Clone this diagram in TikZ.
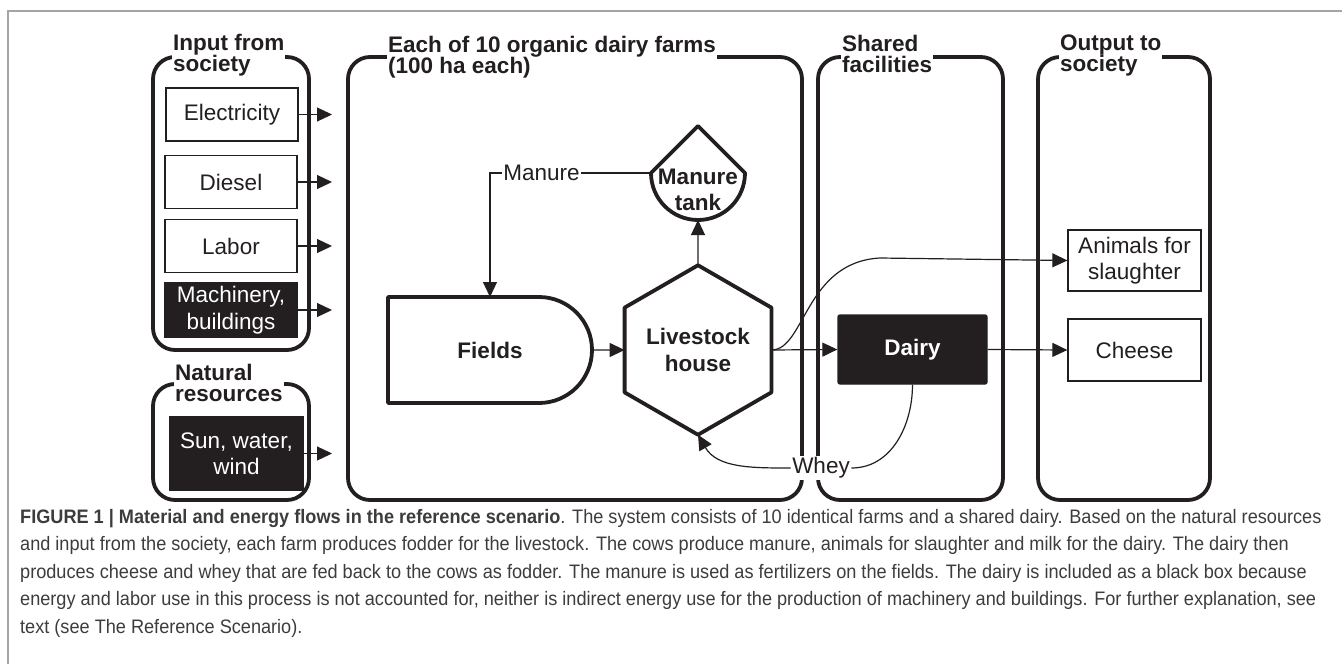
\documentclass[tikz,border=0pt]{standalone}
\usepackage{fontspec}
\setmainfont{Liberation Sans}
\newfontfamily\capfont[FakeStretch=0.93]{Liberation Sans}
\usetikzlibrary{arrows.meta,shapes.geometric,positioning}
\definecolor{ink}{RGB}{35,31,32}
\definecolor{framegray}{RGB}{165,165,165}
\definecolor{capgray}{RGB}{60,60,60}
\newcommand\boxfont{\fontsize{22.5}{26.5}\selectfont}
\newcommand\zonefont{\bfseries\fontsize{22.5}{20.5}\selectfont\lineskiplimit=-\maxdimen}
\newcommand\capsize{\capfont\fontsize{19.5}{21}\selectfont}
\tikzset{
  zone/.style={draw=ink, line width=3.8pt, rounded corners=22pt},
  zonetitle/.style={fill=white, inner sep=1pt, anchor=north west, align=left, text=ink, font=\zonefont},
  inbox/.style={draw=ink, line width=1.3pt, fill=white, text=ink, inner sep=0pt,
    minimum width=132pt, minimum height=53pt, align=center, font=\boxfont},
  darkbox/.style={inbox, fill=ink, text=white},
  procline/.style={draw=ink, line width=3.8pt, line join=round},
  link/.style={draw=ink, line width=1.2pt},
  flow/.style={link, -{Triangle[length=15pt,width=14pt]}},
  lbl/.style={fill=white, inner sep=1.5pt, text=ink, font=\boxfont},
  capline/.style={anchor=base west, inner sep=0pt, text=capgray, font=\capsize}
}
\begin{document}
\begin{tikzpicture}[x=1pt, y=1pt]
  \useasboundingbox (0,0) rectangle (1342,-664);
  % figure frame
  \draw [framegray, line width=1.3pt] (8,-664) -- (8,-11) -- (1342,-11);

  % zones
  \draw [zone] (153,-57) rectangle (309,-350);
  \draw [zone] (153,-384) rectangle (309,-500);
  \draw [zone] (348,-57) rectangle (802,-500);
  \draw [zone] (818,-57) rectangle (1003,-500);
  \draw [zone] (1038,-57) rectangle (1210,-500);
  \node [zonetitle] (t-input) at (172,-33) {Input from\\society};
  \node [zonetitle] (t-natural) at (174,-363) {Natural\\resources};
  \node [zonetitle] (t-farm) at (387,-35) {Each of 10 organic dairy farms\\(100 ha each)};
  \node [zonetitle] (t-shared) at (841,-34) {Shared\\facilities};
  \node [zonetitle] (t-output) at (1059,-34) {Output to\\society};

  % inputs
  \node [inbox] (elec) at (232,-114.5) {Electricity};
  \node [inbox] (diesel) at (231,-182) {Diesel};
  \node [inbox] (labor) at (231,-246) {Labor};
  \node [darkbox, minimum height=54pt] (mach) at (231,-310) {Machinery,\\buildings};
  \node [darkbox, minimum width=133pt, minimum height=73pt] (sun) at (236.5,-453.5) {Sun, water,\\wind};
  \coordinate (farmedge) at (332,0);
  \foreach \n in {elec, diesel, labor, mach, sun}
    \draw [flow] (\n.east) -- (\n.east -| farmedge);

  % farm
  \node [minimum width=204pt, minimum height=106pt, inner sep=0pt, outer sep=0pt,
    text=ink, font=\bfseries\boxfont] (fields) at (490,-350) {Fields};
  \draw [procline] (fields.north west) -- ([xshift=-53pt]fields.north east)
    arc [start angle=90, end angle=-90, radius=53] -- (fields.south west) -- cycle;
  \node [regular polygon, regular polygon sides=6, shape border rotate=30,
    minimum size=159pt, inner sep=0pt, outer sep=0pt, procline, align=center,
    text=ink, font=\bfseries\boxfont] (live) at (698,-350) {Livestock\\house};
  \node [circle, minimum size=94pt, inner sep=0pt, outer sep=0pt] (tank) at (698,-173) {};
  \draw [procline] (tank.west) -- (tank.north) -- (tank.east)
    arc [start angle=0, end angle=-180, radius=47] -- cycle;
  \node [align=center, text=ink, font=\bfseries\boxfont] (tanktext)
    at ([yshift=-17pt]tank.center) {Manure\\tank};
  \draw [flow] (fields.east) -- (live.west);
  \draw [flow] (live.north) -- (tank.south);
  \draw [flow] (tank.west) -- (fields.north |- tank.west)
    node [lbl, pos=.68] (manurelbl) {Manure} -- (fields.north);

  % shared and output
  \node [darkbox, minimum width=149pt, minimum height=69pt, rounded corners=2pt,
    font=\bfseries\boxfont] (dairy) at (912.5,-349.5) {Dairy};
  \node [inbox, minimum width=133pt, minimum height=61pt] (animals) at (1134.5,-260.5) {Animals for\\slaughter};
  \node [inbox, minimum width=133pt, minimum height=62pt] (cheese) at (1134.5,-350) {Cheese};
  \draw [flow] (live.east) -- (dairy.west);
  \draw [flow] (dairy.east) -- (cheese.west);
  \draw [flow] (live.east) .. controls (805,-350) and (805,-262) .. (880,-258) -- (animals.west);
  \node [lbl] (whey) at (821,-468) {Whey};
  \draw [link] (dairy.south) to [out=-90, in=0] (whey.east);
  \draw [flow] (whey.west) to [out=180, in=-60] (live.south);

  % caption
  \node [capline] (cap1) at (20,-523) {\textbf{FIGURE 1 | Material and energy flows in the reference scenario}. The system consists of 10 identical farms and a shared dairy. Based on the natural resources};
  \node [capline] (cap2) at (20,-550.5) {and input from the society, each farm produces fodder for the livestock. The cows produce manure, animals for slaughter and milk for the dairy. The dairy then};
  \node [capline] (cap3) at (20,-578) {produces cheese and whey that are fed back to the cows as fodder. The manure is used as fertilizers on the fields. The dairy is included as a black box because};
  \node [capline] (cap4) at (20,-605.5) {energy and labor use in this process is not accounted for, neither is indirect energy use for the production of machinery and buildings. For further explanation, see};
  \node [capline] (cap5) at (20,-633) {text (see The Reference Scenario).};
\end{tikzpicture}
\end{document}
